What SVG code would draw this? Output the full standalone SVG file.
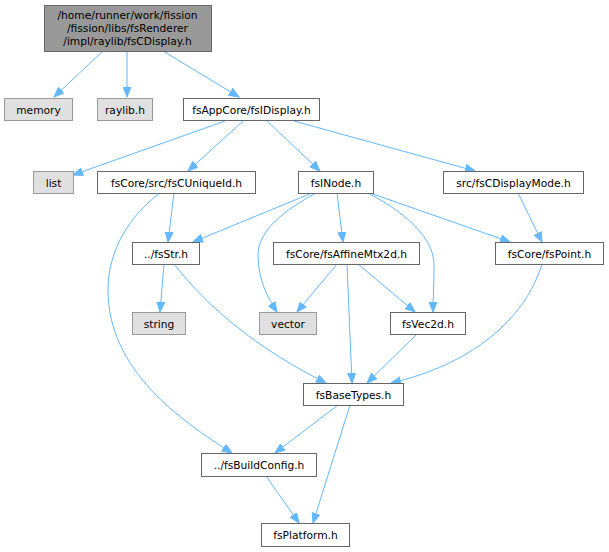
<svg xmlns="http://www.w3.org/2000/svg" width="609" height="552" viewBox="0 0 609 552">
<defs>
<marker id="arr" markerUnits="userSpaceOnUse" markerWidth="11" markerHeight="9" refX="10" refY="4.5" orient="auto">
<path d="M0,0.5 L10,4.5 L0,8.5 z" fill="#63b8ff" stroke="#63b8ff" stroke-width="1"/>
</marker>
<style>
.n rect{fill:#fff;stroke:#666;stroke-width:1}
.g rect{fill:#e0e0e0;stroke:#999;stroke-width:1}
.top rect{fill:#999;stroke:#666;stroke-width:1}
text{font-family:"DejaVu Sans","Liberation Sans",sans-serif;font-size:10.67px;fill:#000;text-anchor:middle}
#edges path{fill:none;stroke:#63b8ff;stroke-width:1;marker-end:url(#arr)}
</style>
</defs>
<rect width="609" height="552" fill="#fff"/>
<g id="edges">
<path d="M103,51 L54,97"/>
<path d="M127,51 L127,97"/>
<path d="M163,51 L239,97"/>
<path d="M225,121 L73,175"/>
<path d="M243,121 L188,171"/>
<path d="M267,121 L320,171"/>
<path d="M294,121 L475,171"/>
<path d="M174,193 L168,242"/>
<path d="M160,193 C130,215 108,250 108,290 C108,370 180,420 232,453"/>
<path d="M312,193 L193,242"/>
<path d="M316,193 C285,210 258,230 258,255 C258,280 268,298 277,312"/>
<path d="M337,193 L343,242"/>
<path d="M368,193 C400,210 434,235 434,265 C434,285 433,298 433,312"/>
<path d="M370,193 L510,242"/>
<path d="M518,193 L542,242"/>
<path d="M164,264 L160,312"/>
<path d="M174,264 C210,310 260,350 326,383"/>
<path d="M337,264 L297,312"/>
<path d="M347,264 L352,383"/>
<path d="M358,264 L415,312"/>
<path d="M417,334 L367,383"/>
<path d="M542,264 C525,320 470,365 391,383"/>
<path d="M338,405 L275,453"/>
<path d="M350,405 L313,523"/>
<path d="M266,476 L299,523"/>
</g>
<g id="n_top" class="top"><rect x="44.5" y="5.5" width="167" height="46"/><text x="127.5" y="19">/home/runner/work/fission</text><text x="127.5" y="32">/fission/libs/fsRenderer</text><text x="127.5" y="45">/impl/raylib/fsCDisplay.h</text></g>
<g id="n_memory" class="g"><rect x="4.5" y="98.5" width="68" height="22"/><text x="38.5" y="113.5">memory</text></g>
<g id="n_raylib" class="g"><rect x="97.5" y="98.5" width="55" height="22"/><text x="125" y="113.5">raylib.h</text></g>
<g id="n_fsIDisplay" class="n"><rect x="183.5" y="98.5" width="136" height="22"/><text x="251.5" y="113.5">fsAppCore/fsIDisplay.h</text></g>
<g id="n_list" class="g"><rect x="33.5" y="171.5" width="40" height="22"/><text x="53.5" y="186.5">list</text></g>
<g id="n_fsCUniqueId" class="n"><rect x="97.5" y="171.5" width="158" height="22"/><text x="176.5" y="186.5">fsCore/src/fsCUniqueId.h</text></g>
<g id="n_fsINode" class="n"><rect x="298.5" y="171.5" width="75" height="22"/><text x="336" y="186.5">fsINode.h</text></g>
<g id="n_fsCDisplayMode" class="n"><rect x="443.5" y="171.5" width="140" height="22"/><text x="513.5" y="186.5">src/fsCDisplayMode.h</text></g>
<g id="n_fsStr" class="n"><rect x="132.5" y="242.5" width="67" height="22"/><text x="166" y="257.5">../fsStr.h</text></g>
<g id="n_fsAffineMtx2d" class="n"><rect x="273.5" y="242.5" width="146" height="22"/><text x="346.5" y="257.5">fsCore/fsAffineMtx2d.h</text></g>
<g id="n_fsPoint" class="n"><rect x="495.5" y="242.5" width="108" height="22"/><text x="549.5" y="257.5">fsCore/fsPoint.h</text></g>
<g id="n_string" class="g"><rect x="132.5" y="312.5" width="53" height="22"/><text x="159" y="327.5">string</text></g>
<g id="n_vector" class="g"><rect x="259.5" y="312.5" width="57" height="22"/><text x="288" y="327.5">vector</text></g>
<g id="n_fsVec2d" class="n"><rect x="390.5" y="312.5" width="75" height="22"/><text x="428" y="327.5">fsVec2d.h</text></g>
<g id="n_fsBaseTypes" class="n"><rect x="303.5" y="383.5" width="100" height="22"/><text x="353.5" y="398.5">fsBaseTypes.h</text></g>
<g id="n_fsBuildConfig" class="n"><rect x="201.5" y="453.5" width="115" height="23"/><text x="259" y="468.5">../fsBuildConfig.h</text></g>
<g id="n_fsPlatform" class="n"><rect x="261.5" y="523.5" width="88" height="23"/><text x="305.5" y="538.5">fsPlatform.h</text></g>
</svg>
